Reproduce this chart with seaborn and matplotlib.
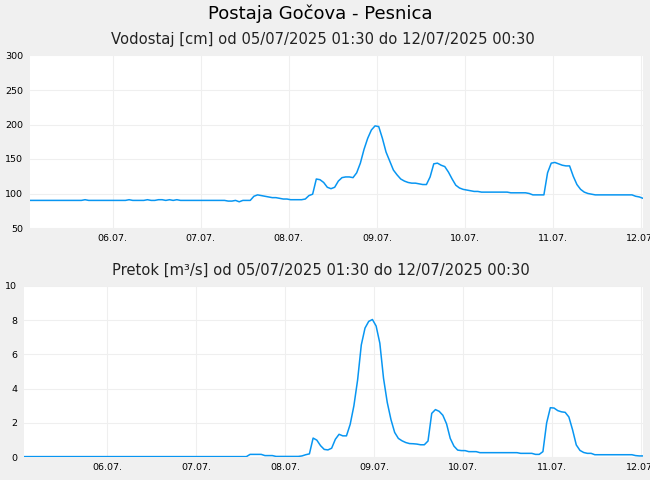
import matplotlib
matplotlib.use("Agg")
import matplotlib.pyplot as plt
import matplotlib.dates as mdates
import pandas as pd
import seaborn as sns

# hourly readings, 05/07/2025 01:30 .. 12/07/2025 00:30
start = "2025-07-05 01:30"
end = "2025-07-12 00:30"

# water level [cm], one list per day
level_0507 = [90, 90, 90, 90, 90, 90, 90, 90, 90, 90, 90, 90, 90, 90, 90, 91, 90, 90, 90, 90, 90, 90, 90]
level_0607 = [90, 90, 90, 90, 91, 90, 90, 90, 90, 91, 90, 90, 91, 91, 90, 91, 90, 91, 90, 90, 90, 90, 90, 90]
level_0707 = [90, 90, 90, 90, 90, 90, 90, 89, 89, 90, 88, 90, 90, 90, 96, 98, 97, 96, 95, 94, 94, 93, 92, 92]
level_0807 = [91, 91, 91, 91, 92, 97, 99, 121, 120, 116, 109, 107, 109, 118, 123, 124, 124, 123, 130, 144,
              164, 180, 192, 198]
level_0907 = [197, 180, 160, 147, 134, 127, 121, 118, 116, 115, 115, 114, 113, 113, 124, 143, 144, 141, 139,
              131, 121, 112, 108, 106]
level_1007 = [105, 104, 103, 103, 102, 102, 102, 102, 102, 102, 102, 102, 101, 101, 101, 101, 101, 100, 98,
              98, 98, 98, 130, 144]
level_1107 = [145, 143, 141, 140, 140, 125, 113, 106, 102, 100, 99, 98, 98, 98, 98, 98, 98, 98, 98, 98, 98,
              98, 96, 95]
level_1207 = [93]

# discharge [m3/s], one list per day
flow_0507 = [0.04] * 23
flow_0607 = [0.04] * 24
flow_0707 = [0.04] * 14 + [0.17, 0.17, 0.17, 0.17, 0.1, 0.1, 0.1, 0.05, 0.05, 0.05]
flow_0807 = [0.05, 0.05, 0.05, 0.05, 0.08, 0.15, 0.2, 1.12, 1.0, 0.68, 0.46, 0.43, 0.53, 1.05, 1.34, 1.25,
             1.25, 1.92, 3.0, 4.5, 6.55, 7.53, 7.92, 8.03]
flow_0907 = [7.65, 6.65, 4.6, 3.2, 2.2, 1.45, 1.1, 0.96, 0.86, 0.8, 0.79, 0.77, 0.73, 0.73, 0.95, 2.56,
             2.78, 2.68, 2.45, 1.95, 1.1, 0.65, 0.42, 0.39]
flow_1007 = [0.39, 0.33, 0.33, 0.33, 0.27] + [0.27] * 10 + [0.23, 0.23, 0.23, 0.23, 0.17, 0.17, 0.33, 2.0, 2.89]
flow_1107 = [2.87, 2.72, 2.65, 2.62, 2.35, 1.6, 0.72, 0.4, 0.28, 0.23, 0.23] + [0.15] * 11 + [0.1, 0.08]
flow_1207 = [0.08]

level = level_0507 + level_0607 + level_0707 + level_0807 + level_0907 + level_1007 + level_1107 + level_1207
flow = flow_0507 + flow_0607 + flow_0707 + flow_0807 + flow_0907 + flow_1007 + flow_1107 + flow_1207

times = pd.date_range(start, end, freq="h")
df = pd.DataFrame({"time": times, "level": level, "flow": flow})

days = pd.date_range("2025-07-06", "2025-07-12", freq="D")
line_color = "#0896f2"

sns.set_theme(style="whitegrid", rc={
    "figure.facecolor": "#f0f0f0",
    "axes.facecolor": "white",
    "grid.color": "#efefef",
    "grid.linewidth": 0.8,
    "axes.edgecolor": "white",
})
plt.rcParams["font.family"] = ["DejaVu Sans"]

fig = plt.figure(figsize=(6.5, 4.8), dpi=100)
ax1 = fig.add_axes([30 / 650, 1 - 228 / 480, 613 / 650, 172.5 / 480])
ax2 = fig.add_axes([24 / 650, 1 - 457.3 / 480, 619 / 650, 171.6 / 480])

sns.lineplot(data=df, x="time", y="level", ax=ax1, color=line_color, linewidth=1.1)
sns.lineplot(data=df, x="time", y="flow", ax=ax2, color=line_color, linewidth=1.1)

for ax, lims, ticks in [(ax1, (50, 300), range(50, 301, 50)), (ax2, (0, 10), range(0, 11, 2))]:
    ax.set_xlim(times[0], times[-1])
    ax.set_ylim(*lims)
    ax.set_yticks(list(ticks))
    ax.set_xticks(days)
    ax.xaxis.set_major_formatter(mdates.DateFormatter("%d.%m."))
    ax.set_xlabel("")
    ax.set_ylabel("")
    ax.tick_params(axis="both", length=0, labelsize=6.8, colors="black")
    ax.tick_params(axis="y", pad=5)
    ax.tick_params(axis="x", pad=4)
    for s in ax.spines.values():
        s.set_visible(False)

fig.text(0.493, 0.972, "Postaja Gočova - Pesnica", ha="center", va="center", fontsize=13, color="black")
fig.text(0.496, 0.917, "Vodostaj [cm] od 05/07/2025 01:30 do 12/07/2025 00:30",
         ha="center", va="center", fontsize=10.6, color="#222222")
fig.text(0.493, 0.437, "Pretok [m³/s] od 05/07/2025 01:30 do 12/07/2025 00:30",
         ha="center", va="center", fontsize=10.6, color="#222222")

fig.savefig("out.png", dpi=100, facecolor=fig.get_facecolor())
